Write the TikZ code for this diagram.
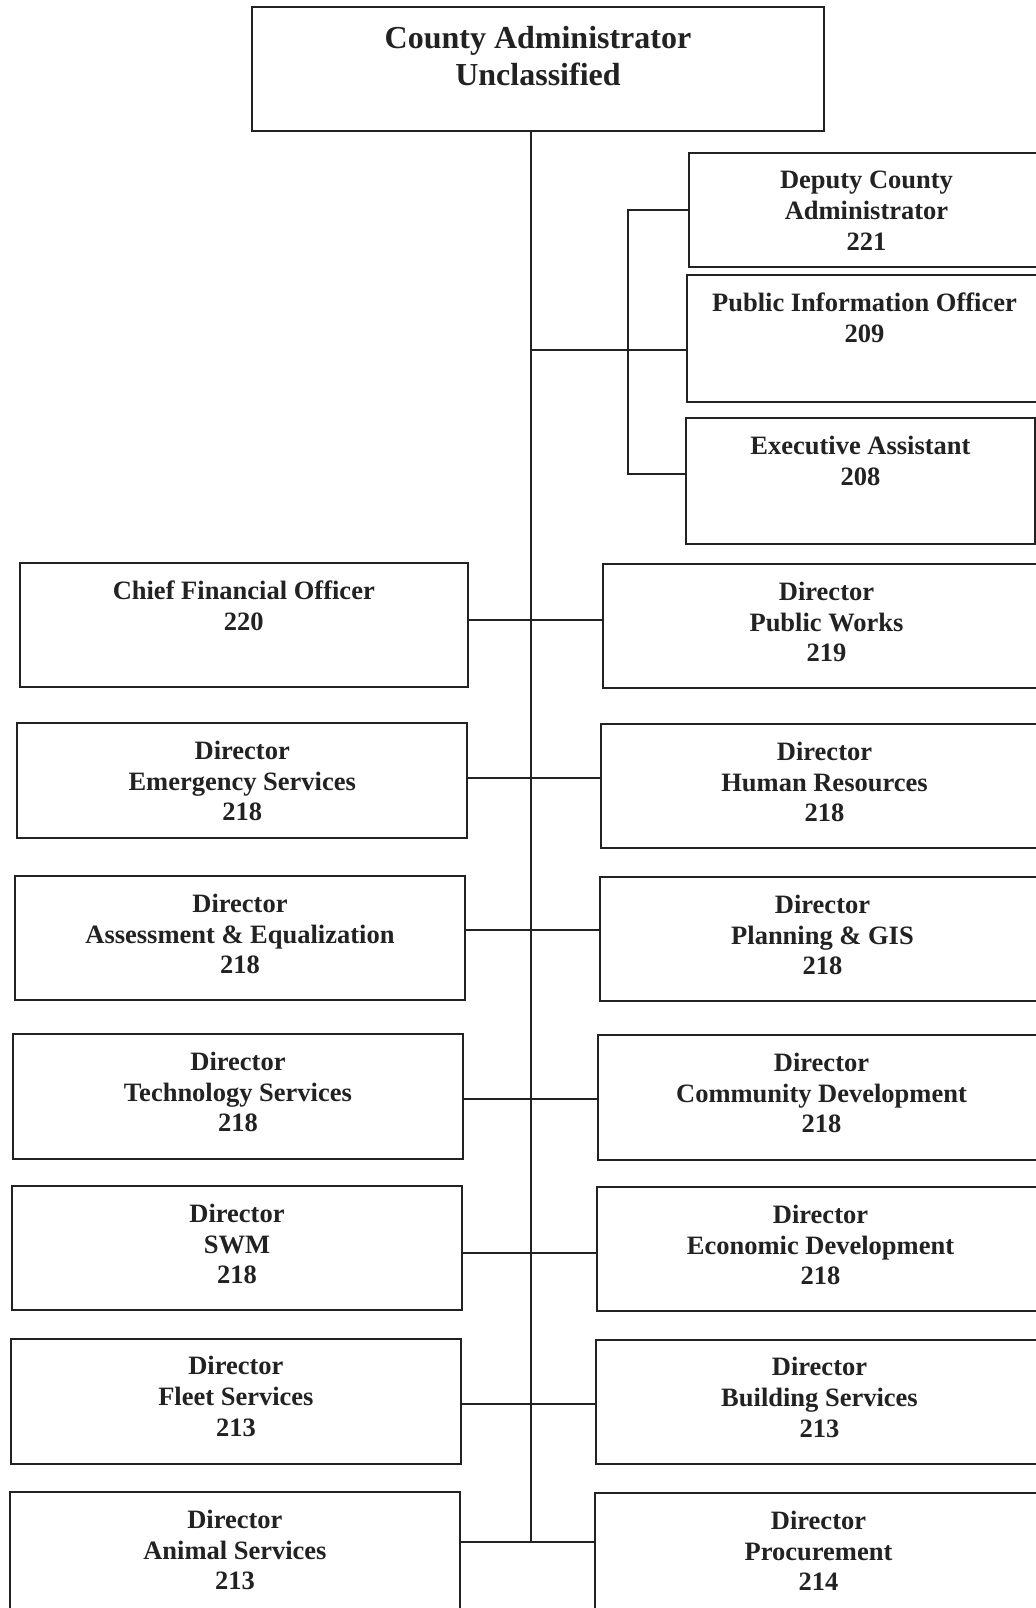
\documentclass[tikz,border=0pt]{standalone}
\usepackage{fontspec}
\setmainfont{Liberation Serif}
\definecolor{ink}{HTML}{222222}
% box: name, x1, y1, x2, y2, text (pixel-style coordinates, y downwards)
\newcommand\unitbox[7][lbl]{%
  \pgfmathsetmacro\obw{(#5-#3)*0.5}%
  \pgfmathsetmacro\obh{(#6-#4)*0.5}%
  \node[box, minimum width=\obw pt, minimum height=\obh pt] (#2) at ({(#3+#5)/2},{(#4+#6)/2}) {};%
  \node[#1] (#2-t) at (#2.north) {#7};%
}
\begin{document}
\begin{tikzpicture}[x=0.5pt,y=-0.5pt,
  box/.style={draw=ink, line width=1pt, rectangle, inner sep=0pt, fill=white},
  lbl/.style={anchor=north, yshift=-9.25pt, align=center, text=ink,
    font=\bfseries\fontsize{13.25}{15.4}\selectfont, inner sep=0pt},
  toplbl/.style={anchor=north, yshift=-9.9pt, align=center, text=ink,
    font=\bfseries\fontsize{16}{18.5}\selectfont, inner sep=0pt},
  link/.style={draw=ink, line width=1pt}]
\fill[white] (0,0) rectangle (1036,1608);
\path[use as bounding box, clip] (0,0) rectangle (1036,1608);

% junction levels on the trunk and the staff bracket
\coordinate (tb) at (531,1541.6);
\coordinate (bk) at (627.7,349.8);
\coordinate (d1) at (627.7,210);
\coordinate (e1) at (627.7,474);
\coordinate (j1) at (531,619.5);
\coordinate (j2) at (531,777.5);
\coordinate (j3) at (531,930.3);
\coordinate (j4) at (531,1098.5);
\coordinate (j5) at (531,1253.4);
\coordinate (j6) at (531,1404);

% head of the chart and the trunk below it
\unitbox[toplbl]{top}{252}{7}{824}{131}{County Administrator\\Unclassified}
\draw[link] (top.south -| tb) -- (tb);

% staff positions
\unitbox{dep}{689}{153}{1044}{267}{Deputy County\\Administrator\\221}
\unitbox{pio}{687}{275}{1042}{402}{Public Information Officer\\209}
\unitbox{ea}{686}{418}{1035}{544}{Executive Assistant\\208}
\draw[link] (tb |- bk) -- (pio.west |- bk);
\draw[link] (dep.west |- d1) -- (d1) -- (e1) -- (ea.west |- e1);

% department heads, left column
\unitbox{cfo}{19.5}{563}{468}{687}{Chief Financial Officer\\220}
\unitbox{es}{17.4}{723}{467}{838}{Director\\Emergency Services\\218}
\unitbox{ae}{15.4}{876}{464.6}{1000}{Director\\Assessment \& Equalization\\218}
\unitbox{ts}{13.3}{1034}{462.6}{1159}{Director\\Technology Services\\218}
\unitbox{swm}{12.3}{1186}{461.6}{1310}{Director\\SWM\\218}
\unitbox{fs}{11.3}{1338.5}{460.5}{1463.7}{Director\\Fleet Services\\213}
\unitbox{as}{10.3}{1492}{459.5}{1660}{Director\\Animal Services\\213}

% department heads, right column
\unitbox{pw}{603}{564}{1050}{688}{Director\\Public Works\\219}
\unitbox{hr}{601}{724}{1048}{848}{Director\\Human Resources\\218}
\unitbox{gis}{600}{877}{1045}{1001}{Director\\Planning \& GIS\\218}
\unitbox{cd}{598}{1035}{1045}{1160}{Director\\Community Development\\218}
\unitbox{ed}{597}{1187}{1044}{1311}{Director\\Economic Development\\218}
\unitbox{bs}{596}{1339.5}{1043}{1463.7}{Director\\Building Services\\213}
\unitbox{pr}{595}{1493}{1042}{1660}{Director\\Procurement\\214}

% horizontal links through the trunk
\draw[link] (cfo.east |- j1) -- (pw.west |- j1);
\draw[link] (es.east |- j2) -- (hr.west |- j2);
\draw[link] (ae.east |- j3) -- (gis.west |- j3);
\draw[link] (ts.east |- j4) -- (cd.west |- j4);
\draw[link] (swm.east |- j5) -- (ed.west |- j5);
\draw[link] (fs.east |- j6) -- (bs.west |- j6);
\draw[link] (as.east |- tb) -- (pr.west |- tb);
\end{tikzpicture}
\end{document}
